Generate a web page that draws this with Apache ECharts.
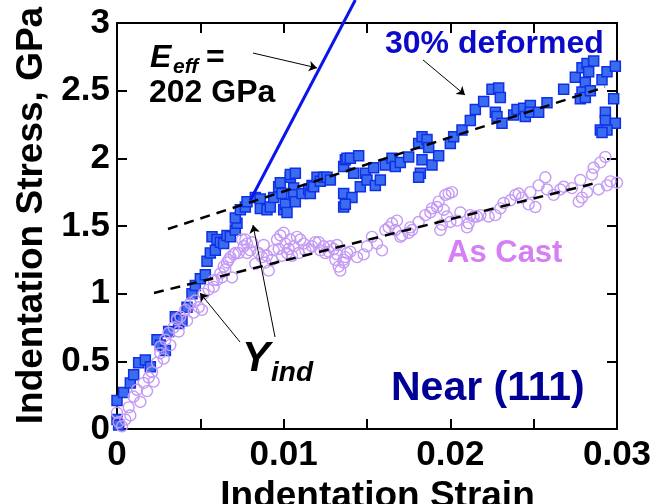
<!DOCTYPE html>
<html>
<head>
<meta charset="utf-8">
<script src="https://cdn.jsdelivr.net/npm/echarts@6/dist/echarts.min.js"></script>
<style>
html,body{margin:0;padding:0;background:#fff;}
#chart{width:658px;height:504px;}
</style>
</head>
<body>
<div id="chart"></div>
<script>
// ---- data ----
var xTicks = [0, 0.01, 0.02, 0.03];
var xTickLabels = ['0', '0.01', '0.02', '0.03'];
var yTicks = [0, 0.5, 1, 1.5, 2, 2.5, 3];
var yTickLabels = ['0', '0.5', '1', '1.5', '2', '2.5', '3'];

var deformedPoints = [
[0.0000,0.21],[0.0000,0.07],[0.0001,0.03],[0.0004,0.27],[0.0008,0.34],[0.0010,0.40],[0.0013,0.49],[0.0017,0.51],
[0.0020,0.46],[0.0024,0.66],[0.0026,0.62],[0.0029,0.58],[0.0031,0.72],[0.0035,0.83],[0.0037,0.78],[0.0039,0.80],
[0.0042,0.90],[0.0045,1.00],[0.0047,1.06],[0.0050,1.11],[0.0053,1.14],[0.0054,1.24],[0.0056,1.30],[0.0059,1.32],
[0.0057,1.42],[0.0060,1.40],[0.0062,1.38],[0.0064,1.37],[0.0066,1.43],[0.0068,1.42],[0.0071,1.47],[0.0072,1.52],
[0.0071,1.56],[0.0074,1.62],[0.0077,1.64],[0.0078,1.68],[0.0083,1.71],[0.0086,1.70],[0.0086,1.63],[0.0090,1.62],
[0.0092,1.64],[0.0094,1.71],[0.0097,1.79],[0.0098,1.82],[0.0099,1.74],[0.0100,1.62],[0.0101,1.66],[0.0102,1.60],
[0.0104,1.86],[0.0104,1.88],[0.0107,1.89],[0.0106,1.78],[0.0106,1.73],[0.0107,1.68],[0.0111,1.74],[0.0115,1.77],
[0.0116,1.74],[0.0117,1.80],[0.0118,1.79],[0.0120,1.86],[0.0122,1.83],[0.0124,1.86],[0.0126,1.86],[0.0128,1.84],
[0.0136,1.94],[0.0137,1.99],[0.0138,2.00],[0.0140,2.00],[0.0142,1.89],[0.0145,2.02],[0.0136,1.74],[0.0141,1.71],
[0.0136,1.64],[0.0137,1.66],[0.0146,1.79],[0.0149,1.89],[0.0150,1.84],[0.0154,1.93],[0.0155,1.80],[0.0158,1.84],
[0.0161,1.95],[0.0165,2.00],[0.0167,1.94],[0.0170,1.97],[0.0175,2.01],[0.0182,1.89],[0.0181,1.86],[0.0183,1.99],
[0.0189,1.95],[0.0193,2.02],[0.0181,2.11],[0.0183,2.16],[0.0186,2.14],[0.0187,2.08],[0.0200,2.11],[0.0202,2.16],
[0.0207,2.21],[0.0212,2.28],[0.0215,2.36],[0.0220,2.42],[0.0225,2.51],[0.0229,2.52],[0.0230,2.45],[0.0227,2.34],
[0.0228,2.31],[0.0231,2.26],[0.0238,2.32],[0.0240,2.36],[0.0244,2.37],[0.0245,2.31],[0.0248,2.39],[0.0248,2.34],
[0.0253,2.34],[0.0258,2.41],[0.0268,2.51],[0.0275,2.60],[0.0279,2.67],[0.0282,2.70],[0.0286,2.72],[0.0283,2.64],
[0.0281,2.56],[0.0279,2.49],[0.0278,2.44],[0.0281,2.45],[0.0284,2.50],[0.0291,2.58],[0.0294,2.64],[0.0299,2.68],
[0.0298,2.44],[0.0293,2.34],[0.0293,2.28],[0.0299,2.26],[0.0290,2.21],[0.0294,2.21],[0.0291,2.19]
];

var castPoints = [
[0.0000,0.12],[0.0001,0.05],[0.0003,0.02],[0.0005,0.07],[0.0007,0.16],[0.0008,0.10],[0.0010,0.24],[0.0012,0.29],
[0.0014,0.20],[0.0016,0.34],[0.0018,0.28],[0.0019,0.38],[0.0021,0.42],[0.0022,0.35],[0.0024,0.49],[0.0026,0.56],
[0.0026,0.61],[0.0028,0.52],[0.0029,0.66],[0.0031,0.71],[0.0032,0.62],[0.0034,0.75],[0.0036,0.81],[0.0037,0.72],
[0.0038,0.83],[0.0041,0.88],[0.0042,0.80],[0.0044,0.93],[0.0046,0.86],[0.0047,0.95],[0.0049,0.90],[0.0051,0.88],
[0.0052,1.00],[0.0055,1.03],[0.0058,1.05],[0.0058,1.10],[0.0060,1.10],[0.0062,1.15],[0.0063,1.12],[0.0064,1.20],
[0.0065,1.18],[0.0066,1.23],[0.0067,1.25],[0.0068,1.27],[0.0069,1.12],[0.0070,1.29],[0.0071,1.30],[0.0073,1.30],
[0.0075,1.40],[0.0076,1.35],[0.0077,1.40],[0.0078,1.37],[0.0078,1.30],[0.0080,1.32],[0.0081,1.38],[0.0083,1.22],
[0.0085,1.30],[0.0087,1.27],[0.0088,1.36],[0.0089,1.23],[0.0090,1.28],[0.0091,1.17],[0.0093,1.25],[0.0094,1.32],
[0.0096,1.40],[0.0097,1.33],[0.0098,1.43],[0.0099,1.28],[0.0100,1.45],[0.0101,1.37],[0.0102,1.30],[0.0103,1.33],
[0.0104,1.40],[0.0105,1.28],[0.0106,1.35],[0.0108,1.42],[0.0109,1.30],[0.0110,1.40],[0.0112,1.37],[0.0113,1.32],
[0.0115,1.33],[0.0117,1.35],[0.0119,1.38],[0.0121,1.38],[0.0122,1.32],[0.0124,1.35],[0.0125,1.30],[0.0127,1.31],
[0.0128,1.35],[0.0130,1.33],[0.0131,1.25],[0.0132,1.36],[0.0132,1.29],[0.0133,1.20],[0.0134,1.17],[0.0136,1.25],
[0.0136,1.23],[0.0137,1.27],[0.0138,1.30],[0.0140,1.31],[0.0144,1.27],[0.0148,1.29],[0.0150,1.35],[0.0153,1.42],
[0.0156,1.37],[0.0159,1.32],[0.0161,1.47],[0.0163,1.49],[0.0165,1.52],[0.0167,1.47],[0.0168,1.54],[0.0170,1.42],
[0.0171,1.43],[0.0175,1.45],[0.0176,1.49],[0.0177,1.47],[0.0181,1.53],[0.0185,1.58],[0.0188,1.60],[0.0189,1.63],
[0.0192,1.64],[0.0193,1.68],[0.0194,1.47],[0.0195,1.51],[0.0196,1.62],[0.0197,1.73],[0.0198,1.57],[0.0199,1.74],
[0.0201,1.75],[0.0200,1.53],[0.0204,1.54],[0.0206,1.60],[0.0210,1.49],[0.0211,1.52],[0.0212,1.58],[0.0214,1.57],
[0.0216,1.57],[0.0218,1.58],[0.0223,1.57],[0.0227,1.58],[0.0230,1.63],[0.0232,1.67],[0.0236,1.69],[0.0239,1.73],
[0.0241,1.74],[0.0243,1.71],[0.0247,1.66],[0.0248,1.75],[0.0251,1.64],[0.0253,1.80],[0.0257,1.86],[0.0258,1.77],
[0.0262,1.73],[0.0266,1.77],[0.0268,1.79],[0.0273,1.78],[0.0277,1.68],[0.0278,1.84],[0.0279,1.71],[0.0282,1.75],
[0.0285,1.88],[0.0286,1.93],[0.0289,1.77],[0.0290,1.97],[0.0293,2.01],[0.0294,1.80],[0.0296,1.83],[0.0300,1.82]
];

var elasticLine = [[0.0080, 1.69], [0.0143, 3.17]];
var deformedFit = [[0.00306, 1.478], [0.02928, 2.527]];
var castFit = [[0.00222, 1.005], [0.02874, 1.818]];

var arrowLines = [
  [[0.00816, 2.778], [0.0120, 2.668]],
  [[0.01836, 2.727], [0.02088, 2.468]],
  [[0.00738, 0.643], [0.00498, 1.005]],
  [[0.00948, 0.680], [0.00816, 1.507]]
];

var xName = 'Indentation Strain';
var yName = 'Indentation Stress, GPa';

// ---- chart ----
var chart = echarts.init(document.getElementById('chart'), null, {renderer: 'canvas'});
var FONT = 'Liberation Sans, Arial, sans-serif';

function xLabel(v) {
  for (var i = 0; i < xTicks.length; i++) if (Math.abs(v - xTicks[i]) < 1e-9) return xTickLabels[i];
  return '';
}
function yLabel(v) {
  for (var i = 0; i < yTicks.length; i++) if (Math.abs(v - yTicks[i]) < 1e-9) return yTickLabels[i];
  return '';
}

var axisLine = {show: true, onZero: false, lineStyle: {color: '#000', width: 2}};
var axisTick = {show: true, inside: true, length: 10, lineStyle: {color: '#000', width: 2}};

var option = {
  animation: false,
  backgroundColor: '#fff',
  grid: {left: 117, right: 41, top: 23, bottom: 75, containLabel: false, outerBoundsMode: 'none'},
  xAxis: [{
    type: 'value', min: 0, max: 0.03, interval: 0.005, position: 'bottom',
    axisLine: axisLine, axisTick: axisTick, splitLine: {show: false},
    axisLabel: {formatter: xLabel, margin: 9, color: '#000', fontFamily: FONT, fontWeight: 'bold', fontSize: 35},
    name: xName, nameLocation: 'middle', nameGap: 46,
    nameTextStyle: {color: '#000', fontFamily: FONT, fontWeight: 'bold', fontSize: 37, padding: [0, 0, 0, 21]}
  }, {
    type: 'value', min: 0, max: 0.03, interval: 0.005, position: 'top',
    axisLine: axisLine, axisTick: axisTick, splitLine: {show: false}, axisLabel: {show: false}
  }],
  yAxis: [{
    type: 'value', min: 0, max: 3, interval: 0.5, position: 'left',
    axisLine: axisLine, axisTick: axisTick, splitLine: {show: false},
    axisLabel: {formatter: yLabel, margin: 7, color: '#000', fontFamily: FONT, fontWeight: 'bold', fontSize: 35},
    name: yName, nameLocation: 'middle', nameGap: 64, nameRotate: 90,
    nameTextStyle: {color: '#000', fontFamily: FONT, fontWeight: 'bold', fontSize: 37, padding: [0, 0, 0, 21]}
  }, {
    type: 'value', min: 0, max: 3, interval: 0.5, position: 'right',
    axisLine: axisLine, axisTick: axisTick, splitLine: {show: false}, axisLabel: {show: false}
  }],
  series: [
    {
      name: '30% deformed', type: 'scatter', data: deformedPoints, symbol: 'rect', symbolSize: 10,
      large: false, z: 2,
      itemStyle: {color: '#3a6cf0', borderColor: '#1030e6', borderWidth: 1.5, opacity: 1}
    },
    {
      name: 'As Cast', type: 'scatter', data: castPoints, symbol: 'circle', symbolSize: 11,
      large: false, z: 3,
      itemStyle: {color: 'rgba(255,255,255,0)', borderColor: '#c49af4', borderWidth: 1.4, opacity: 1}
    },
    {
      name: 'deformed fit', type: 'line', data: deformedFit, symbol: 'none', z: 4, silent: true,
      lineStyle: {color: '#000', width: 2.5, type: [10, 7]}
    },
    {
      name: 'cast fit', type: 'line', data: castFit, symbol: 'none', z: 4, silent: true,
      lineStyle: {color: '#000', width: 2.5, type: [10, 7]}
    },
    {
      name: 'Eeff', type: 'line', data: elasticLine, symbol: 'none', z: 4, silent: true, clip: false,
      lineStyle: {color: '#0a14ee', width: 3}
    },
    {
      name: 'arrows', type: 'lines', coordinateSystem: 'cartesian2d', z: 5, silent: true,
      symbol: ['none', 'arrow'], symbolSize: 8,
      lineStyle: {color: '#000', width: 1, opacity: 1},
      data: arrowLines.map(function (c) { return {coords: c}; })
    }
  ],
  graphic: [
    {type: 'text', left: 150, top: 42, style: {text: 'E', font: 'italic bold 32px ' + FONT, fill: '#000'}},
    {type: 'text', left: 173, top: 57, style: {text: 'eff', font: 'italic bold 21px ' + FONT, fill: '#000'}},
    {type: 'text', left: 206, top: 42, style: {text: '=', font: 'bold 32px ' + FONT, fill: '#000'}},
    {type: 'text', left: 149, top: 77, style: {text: '202 GPa', font: 'bold 32px ' + FONT, fill: '#000'}},
    {type: 'text', left: 385, top: 28, style: {text: '30% deformed', font: 'bold 32px ' + FONT, fill: '#0a0ac8'}},
    {type: 'text', left: 447, top: 238, style: {text: 'As Cast', font: 'bold 31px ' + FONT, fill: '#d67ff5'}},
    {type: 'text', left: 391, top: 368, style: {text: 'Near (111)', font: 'bold 41px ' + FONT, fill: '#000096'}},
    {type: 'text', left: 242, top: 338, style: {text: 'Y', font: 'italic bold 42px ' + FONT, fill: '#000'}},
    {type: 'text', left: 271, top: 359, style: {text: 'ind', font: 'italic bold 28px ' + FONT, fill: '#000'}}
  ]
};
chart.setOption(option);
</script>
</body>
</html>
